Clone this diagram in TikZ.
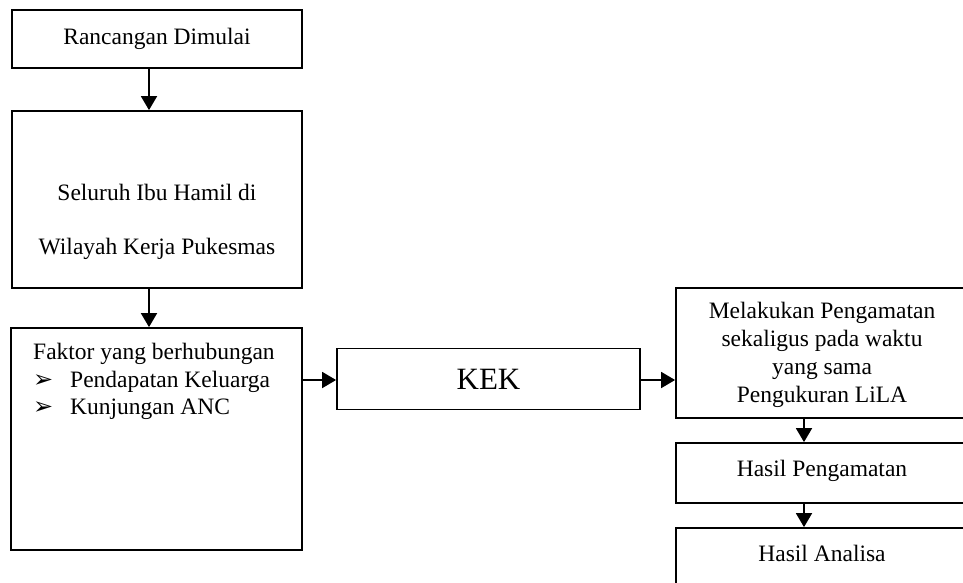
\documentclass[tikz,border=0pt]{standalone}
\usepackage{fontspec}
\setmainfont{Liberation Serif}
\newfontfamily\dejavu{DejaVu Sans}
\usetikzlibrary{arrows.meta}
\begin{document}
\begin{tikzpicture}[x=1pt,y=-1pt,
  box/.style={draw, line width=1.8pt, inner sep=0pt, align=center, font=\fontsize{23.5}{28}\selectfont},
  txt/.style={inner sep=0pt, align=center, font=\fontsize{23.5}{28}\selectfont},
  arr/.style={-{Triangle[length=14pt,width=16pt]}, line width=1.8pt}]
\useasboundingbox (0,0) rectangle (963,582);
\clip (0,0) rectangle (963,582);
\fill[white] (0,0) rectangle (963,582);

\node[box, minimum width=290pt, minimum height=58pt] (b1) at (157,39) {Rancangan Dimulai};
\node[box, minimum width=290pt, minimum height=177pt] (b2) at (157,199.5) {};
\node[txt, font=\fontsize{23.5}{54}\selectfont] (t2) at (157,222) {Seluruh Ibu Hamil di\\Wilayah Kerja Pukesmas};
\node[box, minimum width=291pt, minimum height=222pt] (b3) at (156.5,439) {};
\node[txt, align=left, anchor=north west, font=\fontsize{23.5}{27.5}\selectfont] (t3) at (33,343)
  {Faktor yang berhubungan\\
   \makebox[37pt][l]{\dejavu\fontsize{24}{27}\selectfont ➢}Pendapatan Keluarga\\
   \makebox[37pt][l]{\dejavu\fontsize{24}{27}\selectfont ➢}Kunjungan ANC};
\node[box, minimum width=303pt, minimum height=61pt, font=\fontsize{31}{36}\selectfont] (kek) at (488.5,379) {KEK};
\node[box, minimum width=310pt, minimum height=130pt] (r1) at (831,353) {};
\node[txt] (t5) at (822,355) {Melakukan Pengamatan\\sekaligus pada waktu\\yang sama\\Pengukuran LiLA};
\node[box, minimum width=310pt, minimum height=60pt] (r2) at (831,473) {};
\node[txt] (t6) at (822,471) {Hasil Pengamatan};
\node[box, minimum width=310pt, minimum height=70pt] (r3) at (831,563) {};
\node[txt] (t4) at (822,553) {Hasil Analisa};

\coordinate (cl) at (149,0);
\coordinate (cr) at (804,0);
\coordinate (hy) at (0,380);
\draw[arr] (b1.south -| cl) -- (b2.north -| cl);
\draw[arr] (b2.south -| cl) -- (b3.north -| cl);
\draw[arr] (b3.east |- hy) -- (kek.west |- hy);
\draw[arr] (kek.east |- hy) -- (r1.west |- hy);
\draw[arr] (r1.south -| cr) -- (r2.north -| cr);
\draw[arr] (r2.south -| cr) -- (r3.north -| cr);
\end{tikzpicture}
\end{document}
